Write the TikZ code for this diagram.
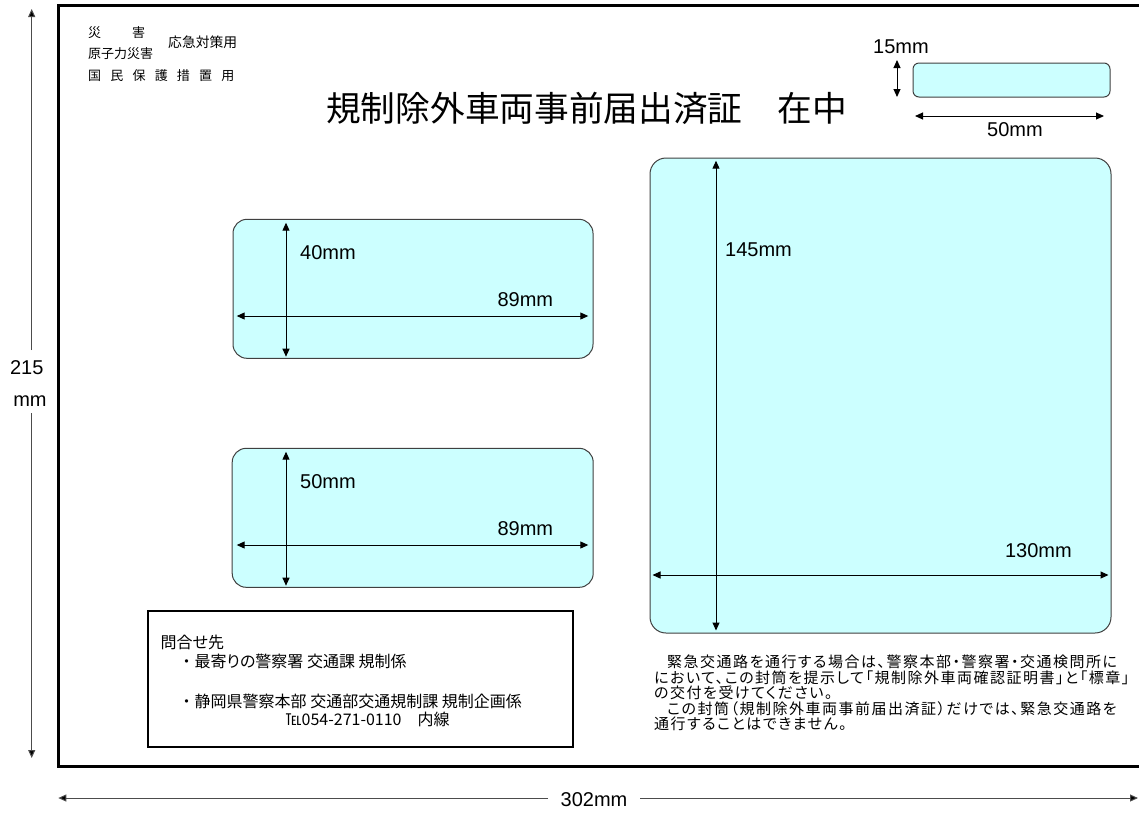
\documentclass[tikz,border=0pt]{standalone}
\usepackage{fontspec}
\setmainfont{Noto Sans CJK JP}
\newfontfamily\pj[RawFeature=+palt]{Noto Sans CJK JP}
\newfontfamily\pjs[RawFeature=+palt, LetterSpace=10]{Noto Sans CJK JP}
\newfontfamily\lat{Liberation Sans}
\usetikzlibrary{arrows.meta}
\definecolor{paneblue}{HTML}{CCFFFF}
\begin{document}
\begin{tikzpicture}[x=1pt,y=-1pt,
  pane/.style={draw=black!75, line width=1pt, fill=paneblue, inner sep=0pt},
  dim/.style={line width=1pt, arrows={Triangle[length=8pt,width=7pt]-Triangle[length=8pt,width=7pt]}},
  tipone/.style={line width=1pt, draw=black!70, arrows={-Triangle[length=8pt,width=7pt,fill=black]}},
  lbl/.style={font=\lat\fontsize{20}{24}\selectfont, inner sep=0pt},
  small/.style={font=\fontsize{13}{15}\selectfont, inner sep=0pt},
  body/.style={font=\pj\fontsize{16}{15.5}\selectfont, inner sep=0pt},
  notebody/.style={font=\pjs\fontsize{15}{15.5}\selectfont, inner sep=0pt}]
\useasboundingbox (0,0) rectangle (1139,812);
% envelope
\draw[line width=3pt] (1139,5) -- (58.5,5) -- (58.5,766) -- (1139,766);
% top-left labels
\node[small, anchor=west] (sai) at (88,33) {災};
\node[small, anchor=west] (gai) at (132,33) {害};
\node[small, anchor=west] (genshi) at (88,54) {原子力災害};
\node[small, anchor=west, font=\fontsize{13.8}{15}\selectfont] (oukyu) at (168,42) {応急対策用};
\node[small, anchor=west] (kokumin) at (88,76) {国\hspace{9.2pt}民\hspace{9.2pt}保\hspace{9.2pt}護\hspace{9.2pt}措\hspace{9.2pt}置\hspace{9.2pt}用};
% title
\node[inner sep=0pt, anchor=west, font=\fontsize{34.7}{40}\selectfont] (title) at (326,108) {規制除外車両事前届出済証　在中};
% small box 15x50
\node[pane, rounded corners=6pt, minimum width=197pt, minimum height=34pt] (sbox) at (1011.5,80) {};
\coordinate (sT) at (897,60);
\coordinate (sB) at (897,97);
\draw[dim] (sT) -- (sB);
\node[lbl, anchor=west] (l15) at (873,47) {15mm};
\coordinate (sL) at (915,116);
\coordinate (sR) at (1104,116);
\draw[dim] (sL) -- (sR);
\node[lbl] (l50a) at (1015,130) {50mm};
% box A
\node[pane, rounded corners=14pt, minimum width=360pt, minimum height=139pt] (boxA) at (413,288.8) {};
\coordinate (aT) at (286,222.7);
\coordinate (aB) at (286,356.7);
\coordinate (aL) at (236.7,316);
\coordinate (aR) at (588.3,316);
\draw[dim] (aT) -- (aB);
\draw[dim] (aL) -- (aR);
\node[lbl, anchor=west] (l40) at (300,252.7) {40mm};
\node[lbl, anchor=east] (l89a) at (553.3,300) {89mm};
% box B
\node[pane, rounded corners=14pt, minimum width=361pt, minimum height=139pt] (boxB) at (412.7,517.8) {};
\coordinate (bT) at (286,451.7);
\coordinate (bB) at (286,585.7);
\coordinate (bL) at (236.7,545);
\coordinate (bR) at (588.3,545);
\draw[dim] (bT) -- (bB);
\draw[dim] (bL) -- (bR);
\node[lbl, anchor=west] (l50b) at (300,482) {50mm};
\node[lbl, anchor=east] (l89b) at (553.3,529) {89mm};
% big box
\node[pane, rounded corners=16pt, minimum width=461pt, minimum height=475pt] (bigbox) at (880.5,395.5) {};
\coordinate (cT) at (716,160.7);
\coordinate (cB) at (716,630.5);
\coordinate (cL) at (652.5,575);
\coordinate (cR) at (1108.5,575);
\draw[dim] (cT) -- (cB);
\draw[dim] (cL) -- (cR);
\node[lbl, anchor=west] (l145) at (725,249.3) {145mm};
\node[lbl, anchor=east] (l130) at (1072,551) {130mm};
% contact box
\node[draw, line width=2pt, minimum width=425pt, minimum height=136pt, inner sep=0pt] (contact) at (360.5,678.5) {};
\node[body, anchor=west] (c1) at (160.5,642) {問合せ先};
\node[body, anchor=west] (c2) at (178.5,661) {{\rmfamily ・}最寄りの警察署 交通課 規制係};
\node[body, anchor=west] (c3) at (178.5,701) {{\rmfamily ・}静岡県警察本部 交通部交通規制課 規制企画係};
\node[body, anchor=west] (c4) at (285.5,719) {℡054-271-0110\hspace{16pt}内線};
% notice
\node[notebody, anchor=base west, align=left] (notice) at (654,729.7) {\hspace{13pt}緊急交通路を通行する場合は、警察本部・警察署・交通検問所に\\において、この封筒を提示して「規制除外車両確認証明書」と「標章」\\の交付を受けてください。\\\hspace{13pt}この封筒（規制除外車両事前届出済証）だけでは、緊急交通路を\\通行することはできません。};
% overall dimensions
\coordinate (vTop) at (31.7,9);
\coordinate (vGapT) at (31.7,350);
\coordinate (vGapB) at (31.7,413);
\coordinate (vBot) at (31.7,758);
\draw[tipone] (vGapT) -- (vTop);
\draw[tipone] (vGapB) -- (vBot);
\node[lbl] (t215) at (26.7,368) {215};
\node[lbl] (m215) at (30,401) {mm};
\coordinate (hL) at (58.3,798);
\coordinate (hGapL) at (548,798);
\coordinate (hGapR) at (640,798);
\coordinate (hR) at (1138,798);
\draw[tipone] (hGapL) -- (hL);
\draw[tipone] (hGapR) -- (hR);
\node[lbl] (w302) at (594,800) {302mm};
\end{tikzpicture}
\end{document}
